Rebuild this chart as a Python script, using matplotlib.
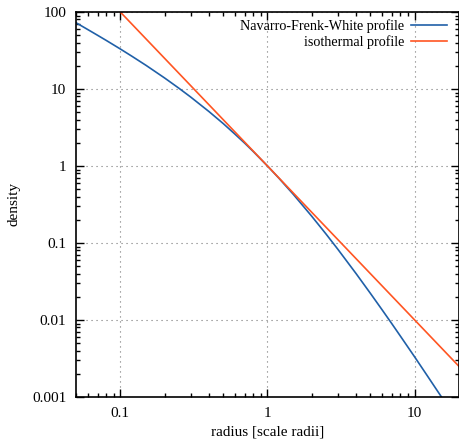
import numpy as np
import matplotlib
matplotlib.use("Agg")
import matplotlib.pyplot as plt
from matplotlib.ticker import LogLocator, FixedLocator, FixedFormatter, NullFormatter

plt.rcParams["font.family"] = ["Liberation Serif", "DejaVu Serif"]
plt.rcParams["font.size"] = 10

# density profiles, sampled along the radius
radius = [0.05, 0.06, 0.07, 0.08, 0.1, 0.12, 0.15, 0.2, 0.25, 0.3, 0.4, 0.5, 0.6, 0.7,
          0.8, 1.0, 1.2, 1.5, 2.0, 2.5, 3.0, 4.0, 5.0, 6.0, 7.0, 8.0, 10.0, 12.0, 15.0, 20.0]
nfw = [72.6, 59.3, 49.9, 42.9, 33.1, 26.6, 20.2, 13.9, 10.24, 7.89, 5.10, 3.56, 2.60, 1.98,
       1.543, 1.0, 0.689, 0.427, 0.222, 0.1306, 0.0833, 0.04, 0.0222, 0.0136, 0.00893,
       0.00617, 0.00331, 0.00197, 0.00104, 0.000454]
iso_radius = [0.1, 1.0, 10.0, 20.0]
isothermal = [100.0, 1.0, 0.01, 0.0025]

x_ticks = [0.1, 1, 10]
x_labels = ["0.1", "1", "10"]
y_ticks = [0.001, 0.01, 0.1, 1, 10, 100]
y_labels = ["0.001", "0.01", "0.1", "1", "10", "100"]

fig = plt.figure(figsize=(4.6, 4.42), dpi=100)
ax = fig.add_axes([76 / 460, 1 - 397 / 442, (459 - 76) / 460, (397 - 12) / 442])

ax.plot(radius, nfw, color="#2060a8", lw=1.2, label="Navarro-Frenk-White profile")
ax.plot(iso_radius, isothermal, color="#ff5522", lw=1.2, label="isothermal profile")

ax.set_xscale("log")
ax.set_yscale("log")
ax.set_xlim(0.05, 20)
ax.set_ylim(0.001, 100)

ax.xaxis.set_major_locator(FixedLocator(x_ticks))
ax.xaxis.set_major_formatter(FixedFormatter(x_labels))
ax.yaxis.set_major_locator(FixedLocator(y_ticks))
ax.yaxis.set_major_formatter(FixedFormatter(y_labels))
ax.xaxis.set_minor_locator(LogLocator(base=10, subs=np.arange(2, 10), numticks=20))
ax.yaxis.set_minor_locator(LogLocator(base=10, subs=np.arange(2, 10), numticks=20))
ax.xaxis.set_minor_formatter(NullFormatter())
ax.yaxis.set_minor_formatter(NullFormatter())

ax.tick_params(which="both", direction="in", top=True, right=True, color="black")
ax.tick_params(which="major", length=6, width=1, pad=7, labelsize=11)
ax.tick_params(which="minor", length=3, width=1)
for s in ax.spines.values():
    s.set_linewidth(1.2)

ax.grid(True, which="major", color="#777777", ls=(0, (1, 3.5)), lw=0.8)

ax.set_xlabel("radius [scale radii]", labelpad=4, fontsize=11)
ax.set_ylabel("density", labelpad=8, fontsize=11)

ax.legend(loc="upper right", bbox_to_anchor=(1 - 5 / 383, 1), frameon=False,
          markerfirst=False, handlelength=2.5, borderaxespad=0.1, labelspacing=0.15,
          handletextpad=0.5, fontsize=10.2)

fig.savefig("out.png", dpi=100)
